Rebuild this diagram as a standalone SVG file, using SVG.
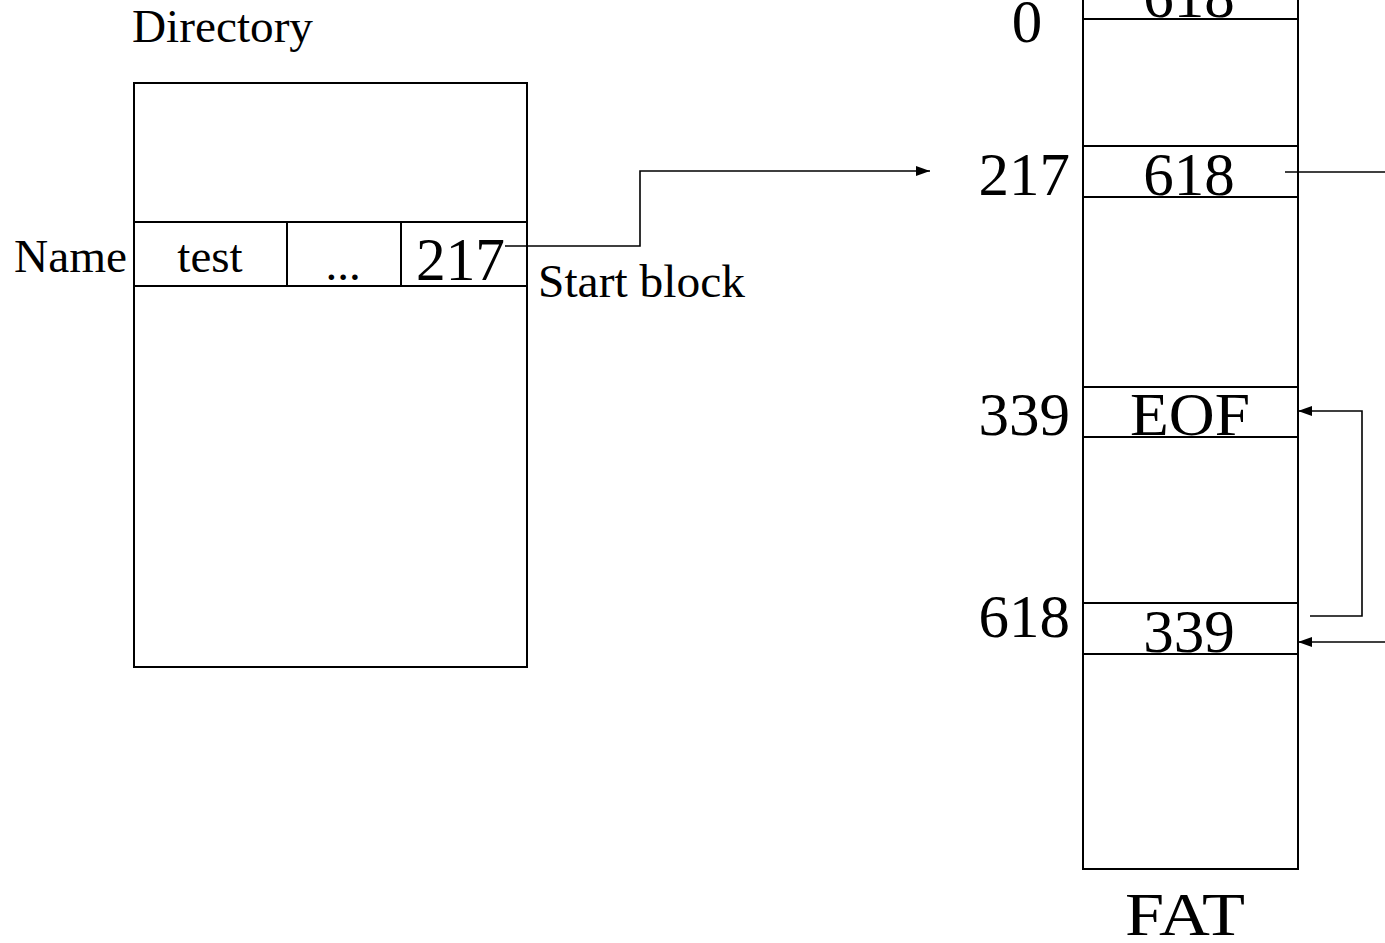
<svg xmlns="http://www.w3.org/2000/svg" width="1385" height="943" viewBox="0 0 1385 943">
<style>
.box{fill:none;stroke:#000;stroke-width:2}
.ln{fill:none;stroke:#000;stroke-width:1.6}
.t{font-family:"Liberation Serif","Times New Roman",serif;fill:#000}
.s{font-size:47px}
.b{font-size:61px}
</style>
<defs>
<marker id="ah" markerWidth="14" markerHeight="10" refX="14" refY="5" orient="auto" markerUnits="userSpaceOnUse">
<path d="M0,0 L14,5 L0,10 z" fill="#000"/>
</marker>
</defs>
<rect width="1385" height="943" fill="#fff"/>
<g id="directory">
<text class="t s" x="132" y="42" textLength="181" lengthAdjust="spacingAndGlyphs">Directory</text>
<rect class="box" x="134" y="83" width="393" height="584"/>
<line class="box" x1="134" y1="222" x2="527" y2="222"/>
<line class="box" x1="134" y1="286" x2="527" y2="286"/>
<line class="box" x1="287" y1="222" x2="287" y2="286"/>
<line class="box" x1="401" y1="222" x2="401" y2="286"/>
<text class="t s" x="14" y="272" textLength="113" lengthAdjust="spacingAndGlyphs">Name</text>
<text class="t s" x="210" y="272" text-anchor="middle">test</text>
<text class="t s" x="343" y="280" text-anchor="middle">...</text>
<text class="t b" x="416" y="280" textLength="89" lengthAdjust="spacingAndGlyphs">217</text>
<text class="t s" x="538" y="297" textLength="207" lengthAdjust="spacingAndGlyphs">Start block</text>
</g>
<g id="fat">
<rect class="box" x="1083" y="-5" width="215" height="874"/>
<line class="box" x1="1083" y1="19" x2="1298" y2="19"/>
<line class="box" x1="1083" y1="146" x2="1298" y2="146"/>
<line class="box" x1="1083" y1="197" x2="1298" y2="197"/>
<line class="box" x1="1083" y1="387" x2="1298" y2="387"/>
<line class="box" x1="1083" y1="437" x2="1298" y2="437"/>
<line class="box" x1="1083" y1="603" x2="1298" y2="603"/>
<line class="box" x1="1083" y1="654" x2="1298" y2="654"/>
<text class="t b" x="1189" y="17" text-anchor="middle">618</text>
<text class="t b" x="1189" y="195" text-anchor="middle">618</text>
<text class="t b" x="1190" y="435" text-anchor="middle" textLength="120" lengthAdjust="spacingAndGlyphs">EOF</text>
<text class="t b" x="1189" y="652" text-anchor="middle">339</text>
<text class="t b" x="1027" y="42" text-anchor="middle">0</text>
<text class="t b" x="1070" y="195" text-anchor="end">217</text>
<text class="t b" x="1070" y="435" text-anchor="end">339</text>
<text class="t b" x="1070" y="637" text-anchor="end">618</text>
<text class="t b" x="1185" y="935" text-anchor="middle" textLength="120" lengthAdjust="spacingAndGlyphs">FAT</text>
</g>
<g id="connectors">
<polyline class="ln" points="505,246 640,246 640,171 930,171" marker-end="url(#ah)"/>
<line class="ln" x1="1285" y1="172" x2="1385" y2="172"/>
<polyline class="ln" points="1310,616 1362,616 1362,411 1298,411" marker-end="url(#ah)"/>
<line class="ln" x1="1385" y1="642" x2="1298" y2="642" marker-end="url(#ah)"/>
</g>
</svg>
